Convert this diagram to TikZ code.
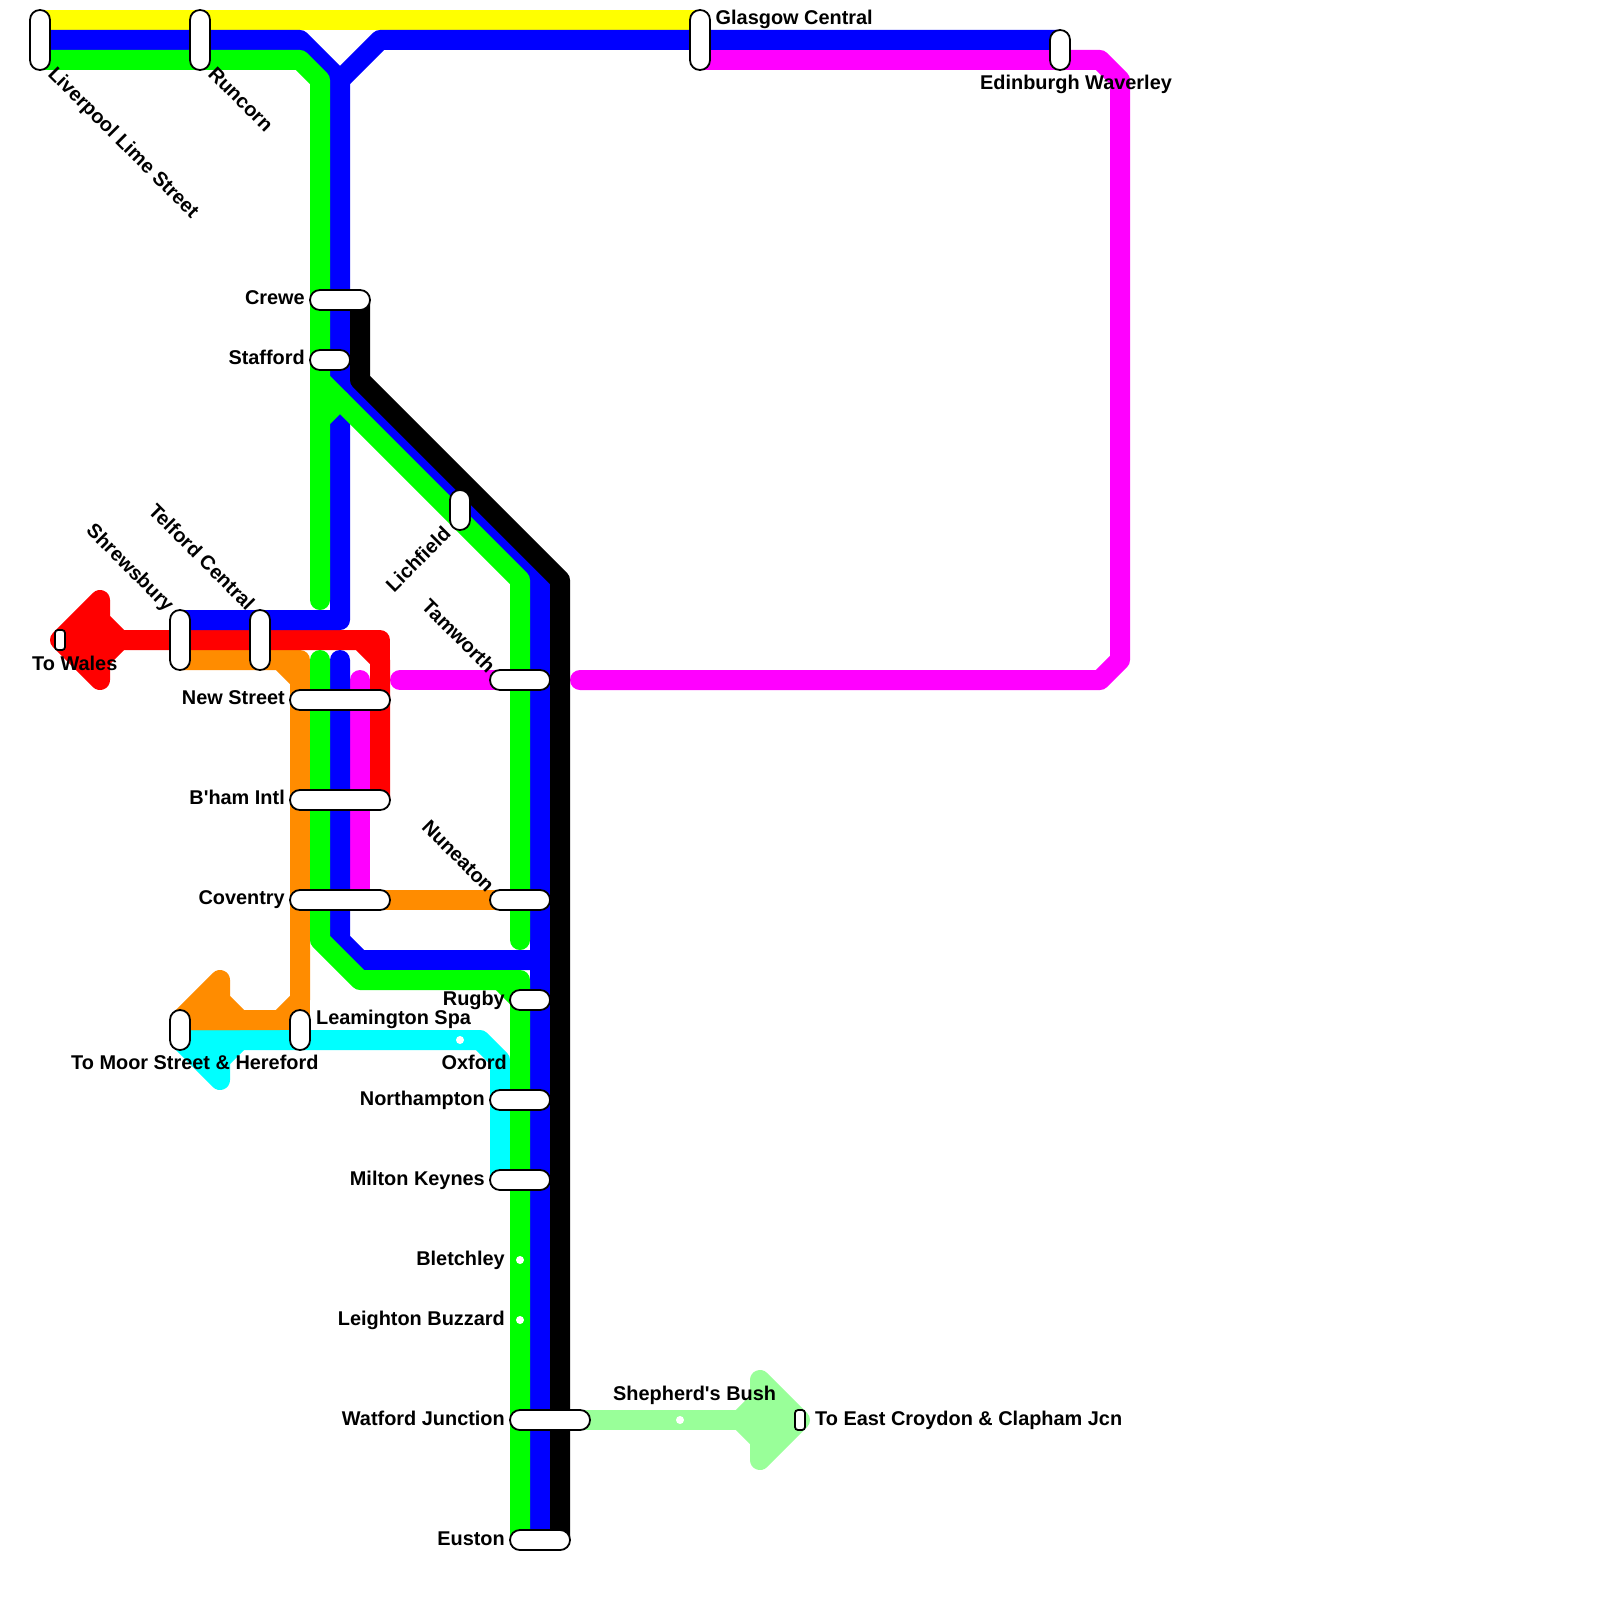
\documentclass[tikz,border=0pt]{standalone}
\usepackage{fontspec}
\setmainfont{Liberation Sans}[BoldFont={Liberation Sans Bold},Ligatures=TeXOff]
\definecolor{yel}{HTML}{FFFF00}
\definecolor{blu}{HTML}{0000FF}
\definecolor{grn}{HTML}{00FF00}
\definecolor{mag}{HTML}{FF00FF}
\definecolor{red1}{HTML}{FF0000}
\definecolor{org}{HTML}{FF8C00}
\definecolor{cyn}{HTML}{00FFFF}
\definecolor{pale}{HTML}{99FF99}
\tikzset{
  track/.style={line width=20pt,line cap=round,line join=round},
  head/.style={line width=20pt,line join=round,draw=#1,fill=#1},
  hstn/.style={draw=black,fill=white,line width=1.8pt,rectangle,rounded corners=9.9pt,minimum height=20pt,minimum width=#1,inner sep=0pt},
  vstn/.style={draw=black,fill=white,line width=1.8pt,rectangle,rounded corners=9.9pt,minimum width=20pt,minimum height=#1,inner sep=0pt},
  tinystn/.style={draw=black,fill=white,line width=1.8pt,rectangle,rounded corners=3pt,minimum width=10pt,minimum height=20pt,inner sep=0pt},
  dot/.style={circle,fill=white,minimum size=8pt,inner sep=0pt},
  lab/.style={inner sep=0pt,font=\bfseries\fontsize{19.9}{24}\selectfont,text=black},
  rl/.style={lab,anchor=base east},
  ll/.style={lab,anchor=base west},
}
\begin{document}
\begin{tikzpicture}[x=1pt,y=-1pt]
\useasboundingbox (0,0) rectangle (1600,1600);
\fill[white] (0,0) rectangle (1600,1600);
% yellow
\draw[track,yel] (40,20) -- (700,20);
% cyan
\filldraw[head=cyn] (180,1040) -- (220,1080) -- (220,1060) -- (240,1040) -- cycle;
\draw[track,cyn] (180,1040) -- (480,1040) -- (500,1060) -- (500,1180);
% orange
\filldraw[head=org] (180,1020) -- (220,980) -- (220,1000) -- (240,1020) -- cycle;
\draw[track,org] (180,1020) -- (280,1020) -- (300,1000) -- (300,680) -- (280,660) -- (180,660);
\draw[track,org] (280,1020) -- (300,1020) -- (300,1000);
\draw[track,org] (280,660) -- (300,660) -- (300,680);
\draw[track,org] (300,900) -- (520,900);
% magenta
\draw[track,mag] (700,60) -- (1100,60) -- (1120,80) -- (1120,660) -- (1100,680) -- (580,680);
\draw[track,mag] (400,680) -- (500,680);
\draw[track,mag] (360,680) -- (360,900);
% red
\filldraw[head=red1] (60,640) -- (100,600) -- (100,620) -- (120,640) -- (100,660) -- (100,680) -- cycle;
\draw[track,red1] (100,640) -- (360,640) -- (380,660) -- (380,800);
\draw[track,red1] (360,640) -- (380,640) -- (380,660);
% blue
\draw[track,blu] (40,40) -- (300,40) -- (340,80) -- (340,620) -- (180,620);
\draw[track,blu] (340,80) -- (380,40) -- (1060,40);
\draw[track,blu] (340,380) -- (540,580) -- (540,1540);
\draw[track,blu] (340,660) -- (340,940) -- (360,960) -- (540,960);
% green
\draw[track,grn] (40,60) -- (300,60) -- (320,80) -- (320,600);
\draw[track,grn] (320,380) -- (520,580) -- (520,940);
\draw[track,grn] (320,420) -- (340,400);
\draw[track,grn] (320,660) -- (320,940) -- (360,980) -- (520,980) -- (520,1540);
\draw[track,grn] (500,980) -- (520,1000);
% black
\draw[track,black] (360,300) -- (360,380) -- (560,580) -- (560,1540);
% pale green
\filldraw[head=pale] (800,1420) -- (760,1380) -- (760,1400) -- (740,1420) -- (760,1440) -- (760,1460) -- cycle;
\draw[track,pale] (560,1420) -- (780,1420);
% stations
\node[vstn=60pt] (liverpool) at (40,40) {};
\node[vstn=60pt] (runcorn) at (200,40) {};
\node[vstn=60pt] (glasgow) at (700,40) {};
\node[vstn=40pt] (edinburgh) at (1060,50) {};
\node[hstn=60pt] (crewe) at (340,300) {};
\node[hstn=40pt] (stafford) at (330,360) {};
\node[vstn=40pt] (lichfield) at (460,510) {};
\node[vstn=60pt] (shrewsbury) at (180,640) {};
\node[vstn=60pt] (telford) at (260,640) {};
\node[tinystn] (wales) at (60,640) {};
\node[hstn=100pt] (newstreet) at (340,700) {};
\node[hstn=100pt] (bham) at (340,800) {};
\node[hstn=100pt] (coventry) at (340,900) {};
\node[hstn=60pt] (tamworth) at (520,680) {};
\node[hstn=60pt] (nuneaton) at (520,900) {};
\node[hstn=40pt] (rugby) at (530,1000) {};
\node[vstn=40pt] (moor) at (180,1030) {};
\node[vstn=40pt] (leamington) at (300,1030) {};
\node[dot] (oxford) at (460,1040) {};
\node[hstn=60pt] (northampton) at (520,1100) {};
\node[hstn=60pt] (milton) at (520,1180) {};
\node[dot] (bletchley) at (520,1260) {};
\node[dot] (leighton) at (520,1320) {};
\node[hstn=80pt] (watford) at (550,1420) {};
\node[dot] (shepherds) at (680,1420) {};
\node[tinystn] (croydon) at (800,1420) {};
\node[hstn=60pt] (euston) at (540,1540) {};
% labels
\node[ll,rotate=-45] (lliverpool) at (47,75) {Liverpool Lime Street};
\node[ll,rotate=-45] (lruncorn) at (207,75) {Runcorn};
\node[ll] (lglasgow) at (715.5,25) {Glasgow Central};
\node[ll] (ledinburgh) at (980,90) {Edinburgh Waverley};
\node[rl] (lcrewe) at (305,304.8) {Crewe};
\node[rl] (lstafford) at (305,364.8) {Stafford};
\node[rl,rotate=45] (llichfield) at (452,535) {Lichfield};
\node[rl,rotate=-45] (lshrewsbury) at (166,612.5) {Shrewsbury};
\node[rl,rotate=-45] (ltelford) at (246.5,611.5) {Telford Central};
\node[lab,anchor=base west] (lwales) at (32,670) {To Wales};
\node[rl,rotate=-45] (ltamworth) at (487,674) {Tamworth};
\node[rl] (lnewstreet) at (285,704.8) {New Street};
\node[rl] (lbham) at (285,804.8) {B'ham Intl};
\node[rl] (lcoventry) at (285,904.8) {Coventry};
\node[rl,rotate=-45] (lnuneaton) at (486,893.5) {Nuneaton};
\node[rl] (lrugby) at (505,1005) {Rugby};
\node[ll] (lleamington) at (316,1024) {Leamington Spa};
\node[ll] (lmoor) at (71,1069) {To Moor Street \& Hereford};
\node[rl] (loxford) at (507,1069) {Oxford};
\node[rl] (lnorthampton) at (485,1105) {Northampton};
\node[rl] (lmilton) at (485,1185) {Milton Keynes};
\node[rl] (lbletchley) at (505,1265) {Bletchley};
\node[rl] (lleighton) at (505,1325) {Leighton Buzzard};
\node[rl] (lwatford) at (505,1425) {Watford Junction};
\node[ll] (lshepherds) at (613,1400) {Shepherd's Bush};
\node[ll] (lcroydon) at (815,1425) {To East Croydon \& Clapham Jcn};
\node[rl] (leuston) at (505,1545) {Euston};
\end{tikzpicture}
\end{document}
